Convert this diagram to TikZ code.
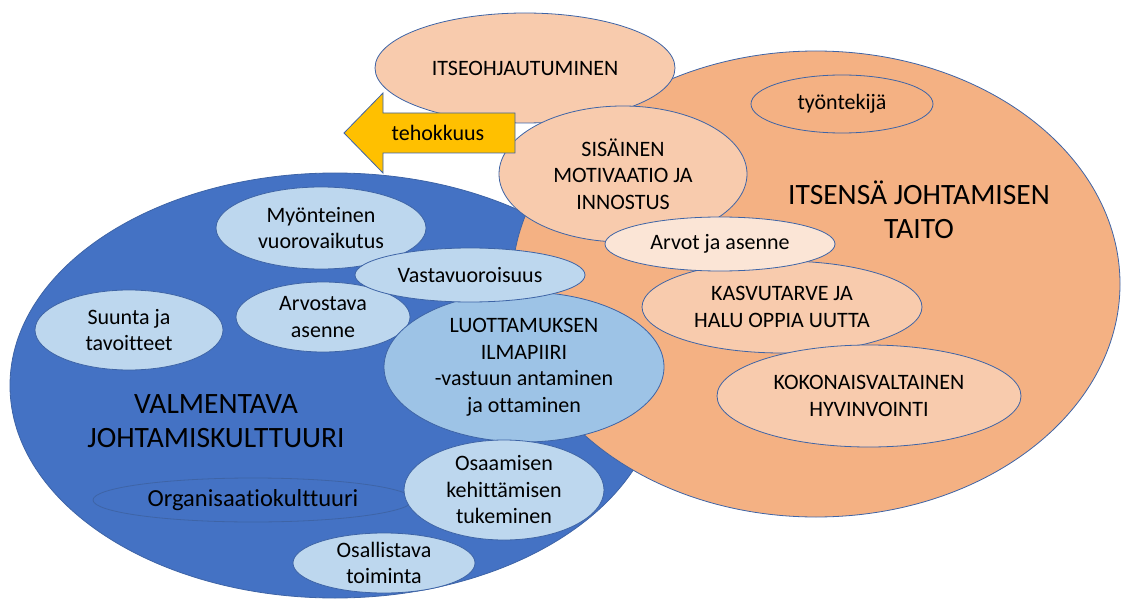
\documentclass[tikz,border=0pt]{standalone}
\usepackage{fontspec}
\setmainfont{Carlito}[Ligatures=NoCommon]
\usetikzlibrary{shapes.geometric}
\definecolor{bigblue}{HTML}{4472C4}
\definecolor{bigorange}{HTML}{F4B183}
\definecolor{peach}{HTML}{F8CBAD}
\definecolor{lightpeach}{HTML}{FBE5D6}
\definecolor{lightblue}{HTML}{BDD7EE}
\definecolor{midblue}{HTML}{9DC3E6}
\definecolor{outl}{HTML}{3E64A6}
\definecolor{gold}{HTML}{FFC000}
\tikzset{
  ell/.style={ellipse, draw=outl, line width=0.8pt, inner sep=0pt,
    label={[align=center, font=\fontsize{22}{26.5}\selectfont, text=black]center:#1}},
  ell/.default={},
  bigtext/.style={align=center, font=\fontsize{29.5}{34.5}\selectfont, text=black, inner sep=0pt},
  small/.style={align=center, font=\fontsize{22}{26.5}\selectfont, text=black, inner sep=0pt}
}
\begin{document}
\begin{tikzpicture}[x=1pt,y=-1pt]
\useasboundingbox (0,0) rectangle (1122,599);
% big ellipses
\node[ell, fill=bigblue, minimum width=650pt, minimum height=425pt] (blue) at (335,385.5) {};
\node[ell, fill=bigorange, minimum width=608pt, minimum height=466pt] (orange) at (816,284) {};
% titles
\node[bigtext] (valm) at (216,421) {VALMENTAVA\\JOHTAMISKULTTUURI};
\node[bigtext] (itsensa) at (919,210) {ITSENSÄ JOHTAMISEN\\TAITO};
% orange side
\node[ell={ITSEOHJAUTUMINEN}, fill=peach, minimum width=300pt, minimum height=110pt] (itse) at (525,68) {};
\node[ell={SISÄINEN\\MOTIVAATIO JA\\INNOSTUS}, fill=peach, minimum width=248pt, minimum height=136pt] (sisa) at (623,174) {};
\node[ell={työntekijä}, fill=bigorange, minimum width=182pt, minimum height=58pt] (tyon) at (842,104) {};
\node[ell={KASVUTARVE JA\\HALU OPPIA UUTTA}, fill=peach, minimum width=280pt, minimum height=92pt] (kasvu) at (782,307) {};
\node[ell={KOKONAISVALTAINEN\\HYVINVOINTI}, fill=peach, minimum width=304pt, minimum height=102pt] (koko) at (869,396) {};
\node[ell={Arvot ja asenne}, fill=lightpeach, minimum width=230pt, minimum height=54pt] (arvot) at (720,244) {};
% arrow
\draw[fill=gold, draw=outl, line width=0.8pt] (515,113) -- (383,113) -- (383,93) -- (344,133) -- (383,173) -- (383,153) -- (515,153) -- cycle;
\node[small] (teh) at (438,133) {tehokkuus};
% blue side
\node[ell={Myönteinen\\vuorovaikutus}, fill=lightblue, minimum width=210pt, minimum height=82pt] (myon) at (321,228) {};
\node[ell={Suunta ja\\tavoitteet}, fill=lightblue, minimum width=188pt, minimum height=80pt] (suunta) at (129,330) {};
\node[ell={Arvostava\\asenne}, fill=lightblue, minimum width=174pt, minimum height=70pt] (arvos) at (323,317) {};
\node[ell={LUOTTAMUKSEN\\ILMAPIIRI\\-vastuun antaminen\\ja ottaminen}, fill=midblue, minimum width=280pt, minimum height=150pt] (luott) at (524,367) {};
\node[ell={Vastavuoroisuus}, fill=lightblue, minimum width=230pt, minimum height=54pt] (vasta) at (470,275) {};
\node[ellipse, draw=outl, line width=0.8pt, inner sep=0pt, fill=bigblue, minimum width=320pt, minimum height=44pt,
  label={[font=\fontsize{24.5}{28}\selectfont, text=black]center:Organisaatiokulttuuri}] (org) at (253,500) {};
\node[ell={Osaamisen\\kehittämisen\\tukeminen}, fill=lightblue, minimum width=200pt, minimum height=100pt] (osaam) at (504,490) {};
\node[ell={Osallistava\\toiminta}, fill=lightblue, minimum width=182pt, minimum height=60pt] (osall) at (384,563) {};
\end{tikzpicture}
\end{document}
